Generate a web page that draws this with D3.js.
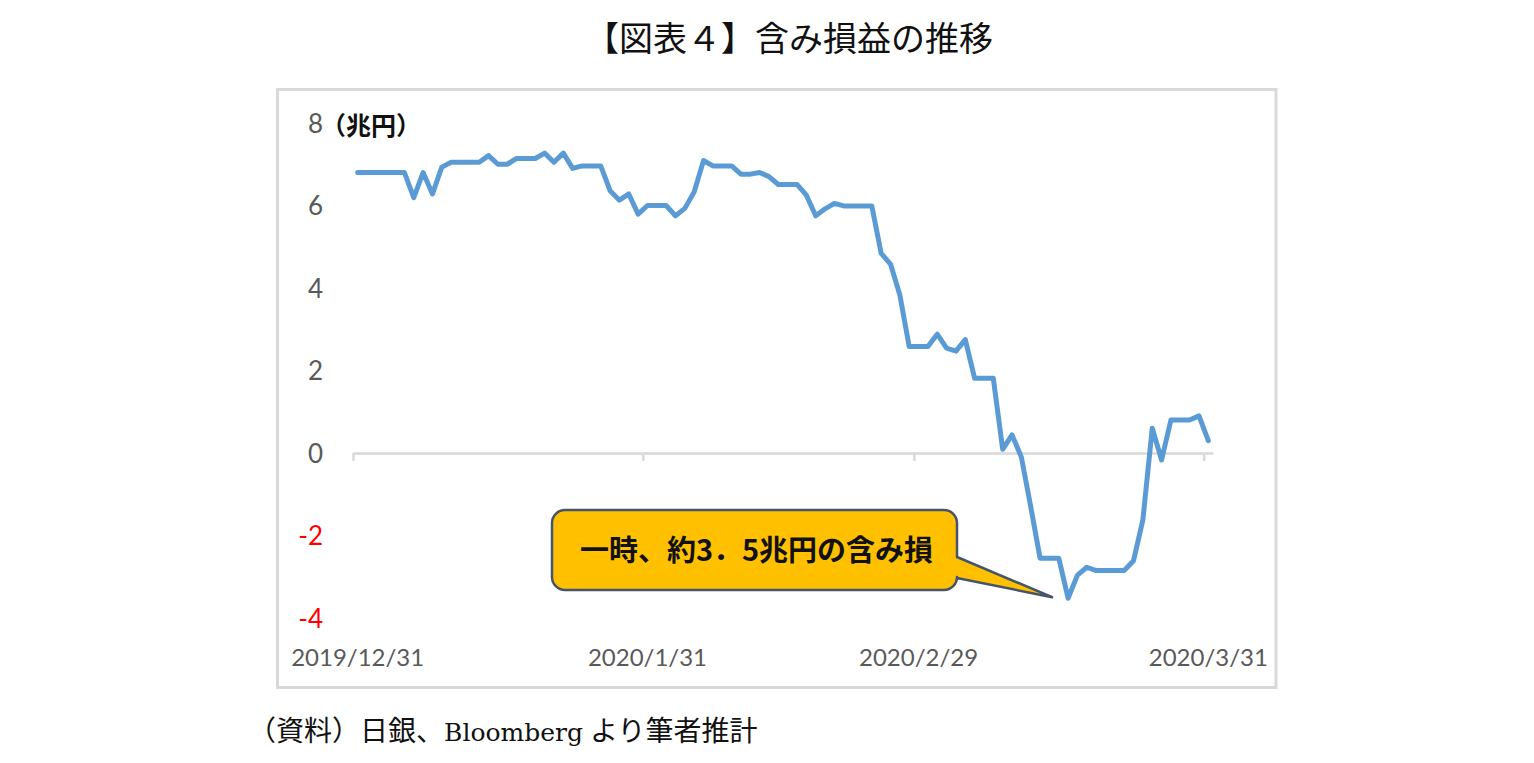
<!DOCTYPE html>
<html>
<head>
<meta charset="utf-8">
<script src="https://cdn.jsdelivr.net/npm/d3@7"></script>
<style>
    body { margin: 0; background: #ffffff; }
    svg { display: block; }
</style>
</head>
<body>
<div id="chart"></div>
<script>
/* * * * * * * * * * * * * *
*   含み損益の推移 (line)   *
* * * * * * * * * * * * * */

// daily categories, 2019/12/31 - 2020/3/31
const dates = [
    "12/31",
    "1/1", "1/2", "1/3", "1/4", "1/5", "1/6", "1/7", "1/8", "1/9", "1/10",
    "1/11", "1/12", "1/13", "1/14", "1/15", "1/16", "1/17", "1/18", "1/19", "1/20",
    "1/21", "1/22", "1/23", "1/24", "1/25", "1/26", "1/27", "1/28", "1/29", "1/30", "1/31",
    "2/1", "2/2", "2/3", "2/4", "2/5", "2/6", "2/7", "2/8", "2/9", "2/10",
    "2/11", "2/12", "2/13", "2/14", "2/15", "2/16", "2/17", "2/18", "2/19", "2/20",
    "2/21", "2/22", "2/23", "2/24", "2/25", "2/26", "2/27", "2/28", "2/29",
    "3/1", "3/2", "3/3", "3/4", "3/5", "3/6", "3/7", "3/8", "3/9", "3/10",
    "3/11", "3/12", "3/13", "3/14", "3/15", "3/16", "3/17", "3/18", "3/19", "3/20",
    "3/21", "3/22", "3/23", "3/24", "3/25", "3/26", "3/27", "3/28", "3/29", "3/30", "3/31"
];

// unrealised gain/loss (兆円)
const values = [
    6.80,
    6.80, 6.80, 6.80, 6.80, 6.80, 6.19, 6.80, 6.28, 6.93, 7.05,
    7.05, 7.05, 7.05, 7.21, 7.00, 7.00, 7.14, 7.14, 7.14, 7.27,
    7.05, 7.27, 6.90, 6.96, 6.96, 6.96, 6.36, 6.13, 6.28, 5.79, 6.00,
    6.00, 6.00, 5.75, 5.93, 6.33, 7.09, 6.96, 6.96, 6.96, 6.76,
    6.76, 6.80, 6.70, 6.51, 6.51, 6.51, 6.25, 5.75, 5.92, 6.05,
    5.99, 5.99, 5.99, 5.99, 4.84, 4.58, 3.83, 2.58, 2.58,
    2.58, 2.88, 2.54, 2.47, 2.75, 1.81, 1.81, 1.81, 0.09, 0.44,
    -0.10, -1.30, -2.55, -2.55, -2.55, -3.52, -2.96, -2.77, -2.85, -2.85,
    -2.85, -2.85, -2.61, -1.62, 0.60, -0.17, 0.80, 0.80, 0.80, 0.90, 0.30
];

// axis labels
const xTickLabels = ["2019/12/31", "2020/1/31", "2020/2/29", "2020/3/31"];
const yTicks = [-4, -2, 0, 2, 4, 6, 8];

const titleText = "【図表４】含み損益の推移";
const unitText = "（兆円）";
const calloutText = "一時、約3．5兆円の含み損";
const sourceParts = ["（資料）日銀、", "Bloomberg", " より筆者推計"];

// parse "M/D" into a date (December belongs to 2019)
function parseDay(s) {
    const [m, d] = s.split("/").map(Number);
    return new Date(m === 12 ? 2019 : 2020, m - 1, d);
}
function parseLabel(s) {
    const [y, m, d] = s.split("/").map(Number);
    return new Date(y, m - 1, d);
}

const data = dates.map((d, i) => ({ date: parseDay(d), value: values[i] }));

const width = 1534, height = 763;
const cjk = '"Noto Sans CJK JP", "Noto Sans", sans-serif';
const serifMix = '"Liberation Serif", "Noto Sans CJK JP", serif';
const numFont = 'Lato, "Open Sans", sans-serif';

const svg = d3.select("#chart").append("svg")
    .attr("width", width)
    .attr("height", height);

// title
svg.append("text")
    .attr("x", 789)
    .attr("y", 51)
    .attr("text-anchor", "middle")
    .style("font-family", serifMix)
    .style("font-size", "34px")
    .style("fill", "#111")
    .text(titleText);

// chart frame
svg.append("rect")
    .attr("x", 277.5)
    .attr("y", 89.5)
    .attr("width", 998.5)
    .attr("height", 598)
    .style("fill", "none")
    .style("stroke", "#d9d9d9")
    .style("stroke-width", 3);

// scales: one slot per calendar day, points drawn in the middle of the slot
const x = d3.scaleTime()
    .domain([parseDay("12/31"), d3.timeDay.offset(parseDay("3/31"), 1)])
    .range([353, 1213]);
const mid = d => d3.timeHour.offset(d, 12);

const y = d3.scaleLinear()
    .domain([-4, 8])
    .range([618, 123]);

// y labels (no axis line)
const yAxis = d3.axisLeft(y)
    .tickValues(yTicks)
    .tickSize(0)
    .tickPadding(0)
    .tickFormat(d => String(d));

const yG = svg.append("g")
    .attr("class", "y-axis")
    .attr("transform", "translate(323,0)")
    .call(yAxis);
yG.select(".domain").remove();
yG.selectAll("text")
    .attr("dy", "0.36em")
    .style("font-family", numFont)
    .style("font-size", "26px")
    .style("fill", d => d < 0 ? "#ff0000" : "#595959");

// unit label
svg.append("text")
    .attr("x", 321)
    .attr("y", 135)
    .style("font-family", cjk)
    .style("font-size", "25px")
    .style("font-weight", "bold")
    .style("fill", "#111")
    .text(unitText);

// x axis at zero, month ticks hanging below
const xAxis = d3.axisBottom(x)
    .tickValues(xTickLabels.map(parseLabel))
    .tickSize(8)
    .tickSizeOuter(0)
    .tickFormat("");

const xG = svg.append("g")
    .attr("class", "x-axis")
    .attr("transform", `translate(0,${y(0)})`)
    .call(xAxis);
xG.selectAll(".domain, line")
    .style("stroke", "#d9d9d9")
    .style("stroke-width", 2.5);

// x labels along the bottom of the frame
svg.append("g")
    .attr("class", "x-labels")
    .selectAll("text")
    .data(xTickLabels)
    .enter().append("text")
    .attr("x", d => x(mid(parseLabel(d))))
    .attr("y", 666)
    .attr("text-anchor", "middle")
    .style("font-family", numFont)
    .style("font-size", "24px")
    .style("fill", "#595959")
    .text(d => d);

// the line
const line = d3.line()
    .x(d => x(mid(d.date)))
    .y(d => y(d.value));

svg.append("path")
    .datum(data)
    .attr("d", line)
    .style("fill", "none")
    .style("stroke", "#5b9bd5")
    .style("stroke-width", 5)
    .style("stroke-linejoin", "round")
    .style("stroke-linecap", "round");

// callout pointing at the trough
const low = data.reduce((a, b) => b.value < a.value ? b : a);
const tip = [x(mid(low.date)) - 16, y(low.value) - 1];
const bx0 = 552, bx1 = 957, by0 = 510, by1 = 590, r = 13;
const callout = d3.path();
callout.moveTo(bx0 + r, by0);
callout.lineTo(bx1 - r, by0);
callout.arcTo(bx1, by0, bx1, by0 + r, r);
callout.lineTo(bx1, 557);
callout.lineTo(tip[0], tip[1]);
callout.lineTo(bx1, 578);
callout.lineTo(bx1, by1 - r);
callout.arcTo(bx1, by1, bx1 - r, by1, r);
callout.lineTo(bx0 + r, by1);
callout.arcTo(bx0, by1, bx0, by1 - r, r);
callout.lineTo(bx0, by0 + r);
callout.arcTo(bx0, by0, bx0 + r, by0, r);
callout.closePath();

svg.append("path")
    .attr("d", callout.toString())
    .style("fill", "#ffc000")
    .style("stroke", "#44546a")
    .style("stroke-width", 2.5)
    .style("stroke-linejoin", "round");

svg.append("text")
    .attr("x", (bx0 + bx1) / 2 + 2)
    .attr("y", 551)
    .attr("dy", "0.36em")
    .attr("text-anchor", "middle")
    .style("font-family", cjk)
    .style("font-size", "29px")
    .style("font-weight", "bold")
    .style("fill", "#111")
    .text(calloutText);

// source note (Latin word set in a wider serif)
const note = svg.append("text")
    .attr("x", 248)
    .attr("y", 741)
    .style("font-family", serifMix)
    .style("font-size", "28px")
    .style("fill", "#111");
note.append("tspan").text(sourceParts[0]);
note.append("tspan")
    .style("font-family", '"DejaVu Serif", serif')
    .style("font-size", "25px")
    .text(sourceParts[1]);
note.append("tspan").text(sourceParts[2]);
</script>
</body>
</html>
